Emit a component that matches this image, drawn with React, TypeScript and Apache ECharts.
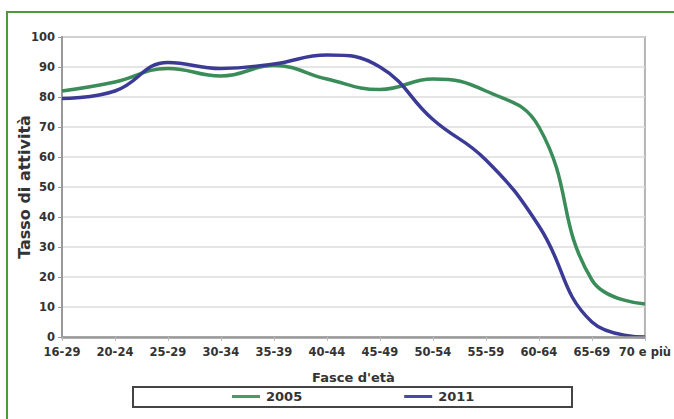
import React, { useEffect, useRef } from "react";
import * as echarts from "echarts";

const categories = ["16-29", "20-24", "25-29", "30-34", "35-39", "40-44", "45-49", "50-54", "55-59", "60-64", "65-69", "70 e più"];
const values2005 = [82, 85, 89.5, 87, 90.5, 86, 82.5, 86, 82, 70, 19, 11];
const values2011 = [79.5, 82, 91.5, 89.5, 91, 94, 90, 72.5, 59, 37, 5, 0];
const seriesNames = ["2005", "2011"];
const yTicks = { min: 0, max: 100, interval: 10 };

const FONT = "DejaVu Sans";

export default function App() {
  const ref = useRef<HTMLDivElement>(null);
  useEffect(() => {
    document.body.style.margin = "0";
    if (!ref.current) return;
    const chart = echarts.init(ref.current, null, { renderer: "svg" });
    chart.setOption({
      animation: false,
      backgroundColor: "#ffffff",
      textStyle: { fontFamily: FONT },
      grid: {
        left: 62,
        top: 37,
        right: 29,
        bottom: 82,
        show: true,
        borderColor: "#b4b4b4",
        borderWidth: 2,
        backgroundColor: "transparent",
      },
      legend: {
        left: 232,
        top: 390,
        padding: 0,
        icon: "rect",
        itemWidth: 28,
        itemHeight: 3,
        itemGap: 102,
        textStyle: { fontFamily: FONT, fontWeight: "bold", fontSize: 13, color: "#333", padding: [0, 0, 0, 1] },
        data: seriesNames,
        z: 20,
      },
      xAxis: {
        type: "category",
        data: categories,
        boundaryGap: false,
        name: "Fasce d'età",
        nameLocation: "middle",
        nameGap: 34,
        nameMoveOverlap: false,
        nameTextStyle: { fontFamily: FONT, fontWeight: "bold", fontSize: 13, color: "#333" },
        axisLine: { lineStyle: { color: "#999", width: 2.5 } },
        axisTick: { show: true, length: 4, interval: 0, lineStyle: { color: "#bbb" } },
        axisLabel: { interval: 0, fontFamily: FONT, fontWeight: "bold", fontSize: 11.5, color: "#333", margin: 9 },
        splitLine: { show: false },
        z: 10,
      },
      yAxis: {
        type: "value",
        min: yTicks.min,
        max: yTicks.max,
        interval: yTicks.interval,
        name: "Tasso di attività",
        nameLocation: "middle",
        nameRotate: 90,
        nameGap: 30,
        nameMoveOverlap: false,
        nameTextStyle: { fontFamily: FONT, fontWeight: "bold", fontSize: 16, color: "#333" },
        axisLine: { show: true, lineStyle: { color: "#999", width: 2 } },
        axisTick: { show: true, length: 4, lineStyle: { color: "#999" } },
        axisLabel: { fontFamily: FONT, fontWeight: "bold", fontSize: 11.5, color: "#333", margin: 7 },
        splitLine: { show: true, lineStyle: { color: "#dcdcdc", width: 1.5 } },
      },
      graphic: [
        {
          type: "rect",
          shape: { x: 7, y: 12, width: 720, height: 460 },
          style: { fill: "none", stroke: "#4e9a3b", lineWidth: 2 },
          z: 0,
          silent: true,
        },
        {
          type: "rect",
          shape: { x: 133, y: 387, width: 439, height: 20 },
          style: { fill: "#fff", stroke: "#444", lineWidth: 2 },
          z: 5,
          silent: true,
        },
      ],
      series: [
        {
          name: seriesNames[0],
          type: "line",
          data: values2005,
          smooth: 0.45,
          symbol: "none",
          lineStyle: { color: "#3a8c58", width: 3.5 },
          itemStyle: { color: "#4a9a68" },
          z: 3,
        },
        {
          name: seriesNames[1],
          type: "line",
          data: values2011,
          smooth: 0.45,
          symbol: "none",
          lineStyle: { color: "#3b3b96", width: 3.5 },
          itemStyle: { color: "#4a4aa0" },
          z: 4,
        },
      ],
    });
    return () => chart.dispose();
  }, []);
  return <div ref={ref} style={{ width: 674, height: 419 }} />;
}
